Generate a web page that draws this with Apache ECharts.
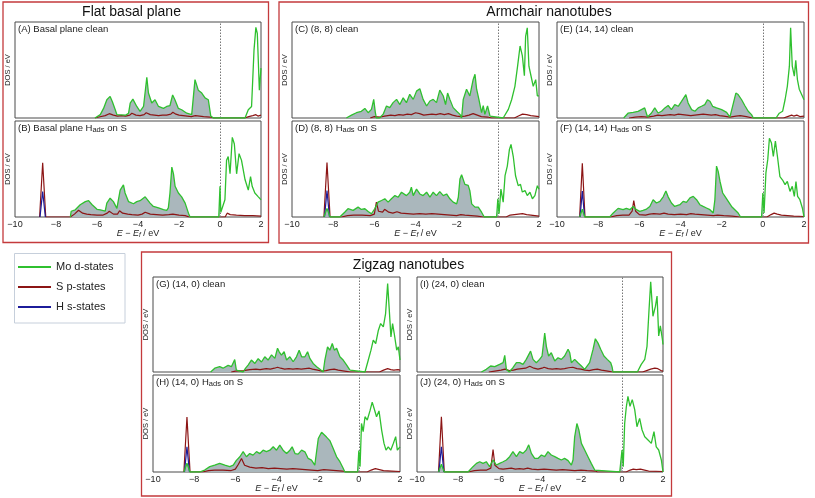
<!DOCTYPE html>
<html><head><meta charset="utf-8">
<script src="https://cdn.jsdelivr.net/npm/echarts@6/dist/echarts.min.js"></script>
<style>html,body{margin:0;padding:0;background:#fff}#c{width:815px;height:498px}</style>
</head><body><div id="c"></div>
<script>
// ---------------- DATA ----------------
const xTicks = [-10, -8, -6, -4, -2, 0, 2];
const seriesNames = ['Mo d-states', 'S p-states', 'H s-states'];
const groupTitles = ['Flat basal plane', 'Armchair nanotubes', 'Zigzag nanotubes'];
const panelLabels = ['(A) Basal plane clean', '(B) Basal plane H|ads| on S', '(C) (8, 8) clean', '(D) (8, 8) H|ads| on S',
  '(E) (14, 14) clean', '(F) (14, 14) H|ads| on S', '(G) (14, 0) clean', '(H) (14, 0) H|ads| on S',
  '(I) (24, 0) clean', '(J) (24, 0) H|ads| on S'];

// [E - Ef (eV), DOS (arb. units, 0-100 of panel height)]
const A_mo = [[-6.1,0],[-5.84,3.5],[-5.68,10],[-5.52,19],[-5.36,22.5],[-5.25,17],[-5.11,8.6],[-5.03,3.5],[-4.6,3],[-4.46,5],[-4.38,15.6],[-4.25,19.7],[-4.06,12],[-3.9,7],[-3.73,12],[-3.57,42.5],[-3.49,26],[-3.33,15.6],[-3.17,19],[-3.0,12],[-2.76,10],[-2.6,12],[-2.44,13],[-2.31,24],[-2.2,19],[-2.03,10],[-1.87,8.6],[-1.62,5],[-1.38,3.5],[-1.22,40],[-1.06,29],[-0.89,26],[-0.73,21],[-0.57,19],[-0.45,2],[-0.32,0],
  [1.22,0],[1.38,8.6],[1.54,12],[1.66,71],[1.75,94.5],[1.82,88],[1.92,29],[2.0,52]];
const A_s = [[-6.1,0],[-5.9,1],[-5.6,2.5],[-5.4,4.5],[-5.2,3],[-5.0,2],[-4.8,2.5],[-4.6,2],[-4.4,3],[-4.3,5],[-4.1,3],[-3.9,2.5],[-3.7,3.5],[-3.6,5.5],[-3.4,3.5],[-3.2,3],[-3.0,2.5],[-2.8,3],[-2.6,3],[-2.4,4],[-2.3,6],[-2.15,4],[-2.0,3],[-1.8,2.5],[-1.6,2],[-1.4,1.5],[-1.2,2.5],[-1.0,2],[-0.8,1.5],[-0.5,1],[-0.3,0],[1.2,0],[1.4,1.5],[1.6,2.5],[1.75,3.5],[1.85,2],[2.0,3]];
const A_h = [];

const B_mo = [[-7.3,0],[-7.26,6],[-7.06,7.5],[-6.82,12.7],[-6.57,16],[-6.41,17],[-6.25,13],[-6.0,8],[-5.84,7.5],[-5.6,6],[-5.52,14.5],[-5.36,19.6],[-5.2,16],[-5.03,9],[-4.87,28],[-4.71,33.4],[-4.63,25],[-4.46,16],[-4.22,13.8],[-4.06,16],[-3.9,17],[-3.65,21],[-3.57,23],[-3.41,14.5],[-3.25,11],[-3.0,9.5],[-2.76,7.6],[-2.6,6.9],[-2.52,9.5],[-2.44,25],[-2.35,52],[-2.27,45],[-2.19,32],[-2.03,25],[-1.87,21],[-1.7,14.5],[-1.54,4],[-1.46,0],
  [-0.06,0],[0,32],[0.04,5],[0.08,4],[0.24,18],[0.32,59],[0.4,63],[0.49,45],[0.6,83],[0.7,76],[0.81,45],[0.93,66],[1.05,59],[1.22,39],[1.38,28],[1.49,42],[1.57,32],[1.7,25],[1.87,21],[2.0,18]];
const B_s = [[-8.8,0],[-8.65,56.5],[-8.5,0],[-7.3,0],[-7.1,3],[-6.9,7],[-6.7,4],[-6.5,3],[-6.3,2.5],[-6.0,2],[-5.7,2],[-5.5,4],[-5.4,6],[-5.2,3],[-5.0,3],[-4.9,6.5],[-4.75,4],[-4.5,3],[-4.3,2.5],[-4.0,2],[-3.8,3],[-3.65,5],[-3.4,3],[-3.1,2.5],[-2.8,2],[-2.5,2.5],[-2.3,3],[-2.0,2],[-1.7,1.5],[-1.5,0],[0.25,0],[0.35,4],[0.5,2.5],[0.8,2],[1.2,1.5],[1.6,1.5],[2.0,1]];
const B_h = [[-8.78,0],[-8.65,26.5],[-8.52,0]];

const C_mo = [[-7.36,0],[-7.11,3],[-6.87,5.5],[-6.63,7],[-6.46,10],[-6.3,5.5],[-6.14,9],[-6.03,19.4],[-5.95,5.5],[-5.9,0],[-5.75,0],[-5.57,4],[-5.41,12.5],[-5.25,10.8],[-5.09,16],[-4.92,19.4],[-4.76,14],[-4.6,21],[-4.44,16],[-4.28,24.7],[-4.11,19.4],[-3.95,28],[-3.79,30.5],[-3.63,19.4],[-3.46,12.5],[-3.3,17.7],[-3.14,19.4],[-2.98,16],[-2.82,29],[-2.65,22.9],[-2.54,14],[-2.44,26],[-2.33,19.4],[-2.17,10.8],[-2.0,7],[-1.84,3.8],[-1.76,0],[-1.68,19.4],[-1.52,30],[-1.36,23],[-1.2,40],[-1.11,45.5],[-1.03,30],[-0.92,19.4],[-0.79,5.5],[-0.71,13],[-0.63,3.8],[-0.5,12.5],[-0.38,2],[-0.3,0],
  [0.26,0],[0.51,9],[0.67,19],[0.83,33],[0.96,54],[1.08,75],[1.19,65],[1.29,44],[1.35,85],[1.43,94],[1.51,54],[1.61,44],[1.72,33],[1.84,40],[1.92,23],[2.0,23]];
const C_s = [[-6.2,0],[-6.0,1.5],[-5.7,1],[-5.5,2],[-5.2,3],[-5.0,2.5],[-4.8,3.5],[-4.6,3],[-4.4,4],[-4.2,3.5],[-4.0,5.5],[-3.8,4.5],[-3.6,3],[-3.4,3.5],[-3.2,4],[-3.0,3.5],[-2.8,4.5],[-2.6,3.5],[-2.4,4.5],[-2.2,3],[-2.0,2],[-1.8,1.5],[-1.6,2],[-1.4,3],[-1.2,4.5],[-1.0,3],[-0.8,1.5],[-0.5,1],[-0.3,0],[0.8,0],[1.0,2],[1.2,4],[1.4,3.5],[1.6,2.5],[1.8,2],[2.0,1.5]];
const C_h = [];

const D_mo = [[-8.45,0],[-8.3,9],[-8.15,0],[-7.68,0],[-7.44,5],[-7.28,8.6],[-7.03,6.9],[-6.79,10.3],[-6.63,7.9],[-6.46,8.6],[-6.3,5.8],[-6.14,3.4],[-5.98,8.6],[-5.82,15.5],[-5.65,17.2],[-5.49,19],[-5.33,15.5],[-5.17,19],[-5.0,22.3],[-4.84,20.6],[-4.68,25.8],[-4.44,22.3],[-4.28,25.8],[-4.2,31],[-4.11,22.3],[-3.95,29],[-3.79,24],[-3.63,22.3],[-3.46,25.8],[-3.3,20.6],[-3.14,25.8],[-2.98,22.3],[-2.82,26.5],[-2.65,22.3],[-2.49,24],[-2.33,19],[-2.17,15.5],[-2.0,13.7],[-1.92,20.6],[-1.84,39.5],[-1.76,44],[-1.6,34],[-1.44,33],[-1.36,27.5],[-1.27,13.7],[-1.11,10.3],[-0.95,10.3],[-0.79,5],[-0.66,0],
  [-0.06,0],[0,19],[0.06,3.4],[0.15,29],[0.26,15.5],[0.35,43],[0.46,53],[0.56,70],[0.64,75.6],[0.75,63],[0.86,43],[0.99,32.6],[1.1,34],[1.19,26],[1.32,27.5],[1.43,22.3],[1.56,25.8],[1.68,19],[1.8,22.3],[1.92,32.6],[2.0,29]];
const D_s = [[-8.45,0],[-8.3,56.7],[-8.15,0],[-7.6,0],[-7.3,1.5],[-7.0,2],[-6.6,2],[-6.2,1.5],[-6.0,3],[-5.9,15.5],[-5.8,6],[-5.6,5],[-5.5,8],[-5.3,5],[-5.1,4],[-4.9,5.5],[-4.7,4],[-4.4,3.5],[-4.1,3],[-3.8,3.5],[-3.5,3],[-3.2,3.5],[-2.9,3],[-2.6,2.5],[-2.3,2],[-2.0,1.5],[-1.8,2.5],[-1.6,2],[-1.3,1.5],[-1.0,1],[-0.7,0],[0.4,0],[0.6,2],[0.8,2.5],[1.0,3],[1.2,3.5],[1.4,2.5],[1.6,2],[1.8,1.5],[2.0,1]];
const D_h = [[-8.42,0],[-8.3,27.5],[-8.18,0]];

const E_mo = [[-6.76,0],[-6.55,5],[-6.3,5.9],[-6.06,6.9],[-5.9,8.7],[-5.74,10.5],[-5.6,1],[-5.41,5.2],[-5.25,10.5],[-5.09,5.2],[-4.92,7],[-4.76,10.5],[-4.6,13],[-4.44,8.7],[-4.28,14],[-4.11,12.2],[-3.95,17.4],[-3.74,24.4],[-3.63,15.7],[-3.46,8.7],[-3.3,7],[-3.14,10.5],[-2.98,12.2],[-2.82,14],[-2.69,19],[-2.57,17.4],[-2.44,12.2],[-2.25,10.5],[-2.0,8.7],[-1.76,5.9],[-1.6,1],[-1.47,12.2],[-1.31,26],[-1.2,24.4],[-1.03,19],[-0.87,12.8],[-0.71,7],[-0.55,3.5],[-0.46,0],
  [0.64,0],[0.8,5],[0.96,7],[1.08,19],[1.19,33],[1.29,54],[1.35,94],[1.43,54],[1.53,43.5],[1.6,60],[1.68,40],[1.77,30],[1.85,31],[2.0,19]];
const E_s = [[-6.5,0],[-6.2,1],[-5.9,1.5],[-5.6,1],[-5.3,2],[-5.1,3],[-4.9,2.5],[-4.7,3],[-4.5,3.5],[-4.3,3],[-4.1,4],[-3.9,3.5],[-3.7,3],[-3.5,2.5],[-3.3,3],[-3.1,3.5],[-2.9,4],[-2.7,3.5],[-2.5,3],[-2.3,3.5],[-2.1,2.5],[-1.9,2],[-1.6,1],[-1.3,2],[-1.1,2.5],[-0.8,1.5],[-0.5,0],[1.0,0],[1.2,1.5],[1.4,3],[1.5,2],[1.65,3],[1.8,1.5],[2.0,2]];
const E_h = [];

const F_mo = [[-8.9,0],[-8.77,8],[-8.65,0],[-7.44,0],[-7.28,4],[-7.03,9],[-6.79,7.6],[-6.63,9],[-6.46,7.6],[-6.3,11],[-6.14,7.6],[-5.98,5.9],[-5.82,6.9],[-5.65,8.3],[-5.49,11],[-5.33,18],[-5.17,14.6],[-5.0,16.3],[-4.84,21],[-4.71,27],[-4.6,21],[-4.44,14.6],[-4.28,11],[-4.03,12.8],[-3.87,16.3],[-3.71,15.3],[-3.54,20],[-3.38,21.5],[-3.22,18],[-3.06,12.8],[-2.9,11],[-2.74,9.4],[-2.57,7.6],[-2.41,4.2],[-2.33,18],[-2.25,53],[-2.17,47.5],[-2.08,37],[-1.95,25],[-1.84,21.5],[-1.68,16.3],[-1.52,11],[-1.36,7.6],[-1.2,4.2],[-1.08,0],
  [-0.06,0],[0,25],[0.06,4.2],[0.15,46],[0.24,60],[0.32,82],[0.42,77],[0.51,63],[0.61,79],[0.71,63],[0.83,42],[0.96,38.5],[1.08,33.7],[1.19,37],[1.32,26.7],[1.43,32],[1.53,21.5],[1.61,37],[1.69,21.5],[1.8,18],[1.92,9.4],[2.0,0]];
const F_s = [[-8.9,0],[-8.77,56],[-8.64,0],[-7.4,0],[-7.1,1.5],[-6.8,2],[-6.5,2],[-6.35,6],[-6.27,17],[-6.18,6],[-6.0,2.5],[-5.7,2],[-5.5,3],[-5.3,3.5],[-5.0,3],[-4.8,4],[-4.6,3],[-4.3,2.5],[-4.0,3],[-3.7,2.5],[-3.5,3.5],[-3.3,3],[-3.0,2.5],[-2.7,2],[-2.4,1.5],[-2.2,2],[-1.9,1.5],[-1.5,1],[-1.1,0],[0.2,0],[0.4,2.5],[0.55,4],[0.7,3],[0.9,2],[1.2,1.5],[1.5,1],[2.0,0.5]];
const F_h = [[-8.88,0],[-8.77,27],[-8.66,0]];

const G_mo = [[-7.2,0],[-7.0,4],[-6.76,5.6],[-6.6,4],[-6.35,7],[-6.19,5.6],[-6.03,13],[-5.95,2],[-5.87,0],[-5.62,0],[-5.51,3.8],[-5.38,7.3],[-5.22,12.6],[-5.05,9],[-4.89,14],[-4.73,10.5],[-4.57,16],[-4.41,12.6],[-4.24,18],[-4.08,14.3],[-3.95,25],[-3.87,21.3],[-3.76,17.8],[-3.63,21.3],[-3.51,12.6],[-3.35,16],[-3.19,10.8],[-3.03,16],[-2.9,23],[-2.78,16],[-2.62,16],[-2.49,21.3],[-2.38,14.3],[-2.22,9],[-2.05,5.6],[-1.89,2.8],[-1.73,0],[-1.65,12.6],[-1.52,26.5],[-1.41,23],[-1.29,30],[-1.19,23],[-1.08,25],[-0.92,16],[-0.76,12.6],[-0.59,7.3],[-0.43,2],[-0.35,0],
  [0.3,0],[0.46,12.6],[0.59,23],[0.7,33.6],[0.82,30],[0.95,44],[1.06,51],[1.19,47.5],[1.3,61.5],[1.4,93],[1.46,72],[1.56,37],[1.64,51],[1.72,40.5],[1.84,23],[1.92,26.5],[2.0,12.6]];
const G_s = [[-6.2,0],[-6.0,1],[-5.6,1.5],[-5.3,2.5],[-5.0,3],[-4.8,2.5],[-4.5,3.5],[-4.3,3],[-4.1,4],[-3.95,5],[-3.8,4],[-3.6,3],[-3.4,3.5],[-3.2,3],[-3.0,3.5],[-2.8,3],[-2.6,3.5],[-2.4,4],[-2.25,3],[-2.0,2],[-1.8,1],[-1.6,1.5],[-1.4,2.5],[-1.2,3],[-1.0,2],[-0.7,1],[-0.4,0],[1.0,0],[1.2,2],[1.4,3.5],[1.55,2.5],[1.7,2],[1.9,2.5],[2.0,2]];
const G_h = [];

const H_mo = [[-8.5,0],[-8.35,9],[-8.2,0],[-7.73,0],[-7.49,2],[-7.24,5.5],[-7.0,7],[-6.76,8.9],[-6.51,7],[-6.27,5.5],[-6.1,7],[-5.95,12],[-5.78,15.7],[-5.62,21],[-5.46,15.7],[-5.3,19],[-5.14,17.4],[-4.97,21],[-4.81,19],[-4.65,22.5],[-4.49,21],[-4.32,22.5],[-4.16,26],[-4.0,22.5],[-3.84,27.6],[-3.68,22.5],[-3.51,19],[-3.35,22.5],[-3.24,26],[-3.1,19],[-2.95,18.4],[-2.78,22.5],[-2.62,20.8],[-2.46,14],[-2.3,12.3],[-2.14,7],[-2.05,8.9],[-1.97,34.5],[-1.89,36],[-1.81,41],[-1.73,39],[-1.57,36],[-1.41,32.4],[-1.24,24],[-1.08,15.7],[-0.92,10.6],[-0.76,3.8],[-0.68,0],
  [-0.06,0],[0,22],[0.06,5.5],[0.13,50],[0.21,41.6],[0.3,57],[0.41,53.6],[0.54,63],[0.65,72],[0.75,65],[0.86,57],[0.98,63],[1.11,43],[1.22,29.7],[1.32,22.5],[1.43,26],[1.55,22.5],[1.68,29.7],[1.79,36.5],[1.87,22.5],[2.0,26]];
const H_s = [[-8.5,0],[-8.35,56.7],[-8.2,0],[-7.6,0],[-7.3,1.5],[-7.0,2],[-6.6,2],[-6.2,1.5],[-6.0,3],[-5.85,8],[-5.7,14],[-5.55,7],[-5.3,5],[-5.0,4],[-4.7,4.5],[-4.4,3.5],[-4.1,4],[-3.8,3.5],[-3.5,3],[-3.2,3.5],[-2.9,3],[-2.6,2.5],[-2.3,2],[-2.0,1.5],[-1.7,2.5],[-1.4,2],[-1.1,1.5],[-0.8,1],[-0.6,0],[0.4,0],[0.6,2],[0.8,3.5],[1.0,2.5],[1.2,1.5],[1.6,1],[2.0,0.5]];
const H_h = [[-8.47,0],[-8.35,26],[-8.23,0]];

const I_mo = [[-6.86,0],[-6.62,2.8],[-6.41,6.3],[-6.21,5.6],[-5.97,8],[-5.8,9.8],[-5.72,17.5],[-5.64,2.8],[-5.5,0],[-5.32,4.5],[-5.15,9.8],[-4.99,9.8],[-4.83,8],[-4.67,13.3],[-4.46,22],[-4.34,13.3],[-4.18,9.8],[-4.02,13.3],[-3.9,16.8],[-3.77,41],[-3.69,27],[-3.58,16.8],[-3.45,20.3],[-3.28,11.5],[-3.12,15],[-2.96,13.3],[-2.8,16.8],[-2.63,24],[-2.55,20.3],[-2.47,9.8],[-2.31,13.3],[-2.15,9.8],[-1.98,6.3],[-1.82,2.8],[-1.74,1],[-1.58,9.8],[-1.41,24],[-1.3,35],[-1.17,30.4],[-1.04,24],[-0.88,16.8],[-0.72,13.3],[-0.55,9.8],[-0.48,5],[-0.44,0],
  [0.75,0],[0.94,8],[1.11,13.3],[1.22,27],[1.32,66],[1.4,95],[1.51,58.7],[1.63,69],[1.71,80],[1.79,38],[1.87,48.6],[1.97,34.6],[2.0,29]];
const I_s = [[-6.5,0],[-6.2,1],[-5.9,2],[-5.7,3],[-5.5,1.5],[-5.3,2],[-5.1,3],[-4.9,3.5],[-4.7,4],[-4.5,6],[-4.3,4],[-4.1,3],[-3.9,4],[-3.8,5],[-3.6,3.5],[-3.4,3],[-3.2,3.5],[-3.0,3],[-2.8,3.5],[-2.6,4.5],[-2.4,5],[-2.2,3.5],[-2.0,3],[-1.8,2],[-1.6,1.5],[-1.4,2.5],[-1.2,3],[-1.0,2],[-0.7,1],[-0.45,0],[1.0,0],[1.2,1.5],[1.4,3],[1.6,4],[1.75,3.5],[1.9,1.5],[2.0,1]];
const I_h = [];

const J_mo = [[-8.95,0],[-8.81,8],[-8.67,0],[-7.51,0],[-7.27,5.5],[-7.1,8.9],[-6.94,10.6],[-6.78,8.9],[-6.62,10.6],[-6.46,5.5],[-6.29,12.4],[-6.13,7.2],[-5.97,8.9],[-5.8,10.6],[-5.64,12.4],[-5.48,15.8],[-5.32,21],[-5.15,15.8],[-4.99,21],[-4.83,19.2],[-4.67,22.7],[-4.55,28],[-4.42,19.2],[-4.26,14],[-4.1,14],[-3.93,17.5],[-3.77,15.8],[-3.61,21],[-3.45,17.5],[-3.28,15.8],[-3.12,14],[-2.96,12.4],[-2.8,14],[-2.63,11.7],[-2.47,7.2],[-2.39,12.4],[-2.31,36],[-2.2,50],[-2.1,43],[-1.98,29.5],[-1.82,22.7],[-1.66,15.8],[-1.5,8.9],[-1.33,2],[-1.25,0],
  [-0.11,0],[0,22.7],[0.06,5.5],[0.13,50],[0.21,67],[0.29,78],[0.39,67.7],[0.5,74.6],[0.62,64.3],[0.73,46.7],[0.86,55.3],[0.98,43.3],[1.11,36.4],[1.27,33],[1.43,29.5],[1.56,41.6],[1.67,26],[1.79,22.7],[1.92,12.4],[2.0,0]];
const J_s = [[-8.95,0],[-8.81,57],[-8.67,0],[-7.5,0],[-7.2,1.5],[-6.9,2],[-6.6,2],[-6.4,4],[-6.29,23],[-6.2,7],[-6.0,3.5],[-5.8,3],[-5.6,3.5],[-5.4,4],[-5.2,3],[-5.0,3.5],[-4.8,3],[-4.6,4],[-4.4,3],[-4.1,2.5],[-3.8,3],[-3.5,2.5],[-3.2,2],[-2.9,2.5],[-2.6,2],[-2.3,1.5],[-2.0,2],[-1.7,1.5],[-1.3,1],[-1.2,0],[0.2,0],[0.4,2],[0.55,3],[0.7,2.5],[0.9,3],[1.1,2],[1.3,1],[2.0,0.5]];
const J_h = [[-8.93,0],[-8.81,26],[-8.69,0]];

// ---------------- LAYOUT ----------------
const FONT = 'Liberation Sans';
const COL = { green: '#2fc02f', red: '#8c1515', blue: '#1c1c9a', fill: '#aab7bc', frame: '#4a4a4a', box: '#c43a3c' };
const panels = [
  { mo: A_mo, s: A_s, h: A_h, left: 15, top: 22, w: 246, ht: 96, bottom: false },
  { mo: B_mo, s: B_s, h: B_h, left: 15, top: 121, w: 246, ht: 96, bottom: true },
  { mo: C_mo, s: C_s, h: C_h, left: 292, top: 22, w: 247, ht: 96, bottom: false },
  { mo: D_mo, s: D_s, h: D_h, left: 292, top: 121, w: 247, ht: 96, bottom: true },
  { mo: E_mo, s: E_s, h: E_h, left: 557, top: 22, w: 247, ht: 96, bottom: false },
  { mo: F_mo, s: F_s, h: F_h, left: 557, top: 121, w: 247, ht: 96, bottom: true },
  { mo: G_mo, s: G_s, h: G_h, left: 153, top: 277, w: 247, ht: 95, bottom: false },
  { mo: H_mo, s: H_s, h: H_h, left: 153, top: 375, w: 247, ht: 97, bottom: true },
  { mo: I_mo, s: I_s, h: I_h, left: 417, top: 277, w: 246, ht: 95, bottom: false },
  { mo: J_mo, s: J_s, h: J_h, left: 417, top: 375, w: 246, ht: 97, bottom: true }
];
const boxes = [
  { x: 3, y: 2, w: 265.5, h: 240.5, title: groupTitles[0], tx: 131.5, ty: 12 },
  { x: 279, y: 2, w: 529.5, h: 241, title: groupTitles[1], tx: 549, ty: 12 },
  { x: 141.5, y: 252, w: 530, h: 244, title: groupTitles[2], tx: 408.5, ty: 265 }
];

const fmt = v => (v < 0 ? '\u2212' + Math.abs(v) : String(v));
const grids = [], xAxes = [], yAxes = [], series = [], graphics = [];

panels.forEach((p, i) => {
  grids.push({ left: p.left, top: p.top, width: p.w, height: p.ht, show: true,
    borderColor: COL.frame, borderWidth: 1, backgroundColor: 'transparent' });
  xAxes.push({ gridIndex: i, type: 'value', min: xTicks[0], max: xTicks[xTicks.length - 1], interval: 2,
    axisLine: { show: false }, axisTick: { show: false }, splitLine: { show: false },
    axisLabel: { show: p.bottom, formatter: fmt, fontSize: 9, color: '#222', margin: 3, fontFamily: FONT } });
  yAxes.push({ gridIndex: i, type: 'value', min: 0, max: 100,
    axisLine: { show: false }, axisTick: { show: false }, splitLine: { show: false }, axisLabel: { show: false },
    name: 'DOS / eV', nameLocation: 'middle', nameGap: 3,
    nameTextStyle: { fontSize: 7.5, color: '#222', fontFamily: FONT } });
  series.push({ name: 'occupied', type: 'line', xAxisIndex: i, yAxisIndex: i, silent: true,
    data: p.mo.filter(d => d[0] <= 0), showSymbol: false, lineStyle: { width: 0 },
    areaStyle: { color: COL.fill, opacity: 1 }, z: 1 });
  series.push({ name: seriesNames[1], type: 'line', xAxisIndex: i, yAxisIndex: i, data: p.s,
    showSymbol: false, color: COL.red, lineStyle: { width: 1.2, color: COL.red }, z: 3 });
  series.push({ name: seriesNames[2], type: 'line', xAxisIndex: i, yAxisIndex: i, data: p.h,
    showSymbol: false, color: COL.blue, lineStyle: { width: 1.2, color: COL.blue }, z: 4 });
  series.push({ name: seriesNames[0], type: 'line', xAxisIndex: i, yAxisIndex: i, data: p.mo,
    showSymbol: false, color: COL.green, lineStyle: { width: 1.3, color: COL.green }, z: 5,
    markLine: { silent: true, symbol: 'none', label: { show: false },
      lineStyle: { type: [1.5, 1.5], color: '#777', width: 1 }, data: [{ xAxis: 0 }] } });
  const parts = panelLabels[i].split('|');
  let txt = '{n|' + parts[0] + '}';
  if (parts.length > 1) txt += '{s|' + parts[1] + '}{n|' + parts[2] + '}';
  graphics.push({ type: 'text', x: p.left + 3, y: p.top + 2, z: 10,
    style: { text: txt, verticalAlign: 'top', rich: {
      n: { fontSize: 9.5, fontFamily: FONT, fill: '#222', lineHeight: 12, verticalAlign: 'top' },
      s: { fontSize: 7.5, fontFamily: FONT, fill: '#222', lineHeight: 12, verticalAlign: 'top', padding: [2.5, 0, 0, 0] } } } });
  if (p.bottom) {
    graphics.push({ type: 'text', x: p.left + p.w / 2, y: p.top + p.ht + 12, z: 10,
      style: { text: '{i|E}{n| \u2212 }{i|E}{s|f}{n| / eV}', align: 'center', verticalAlign: 'top', rich: {
        n: { fontSize: 9, fontFamily: FONT, fill: '#222', lineHeight: 11, verticalAlign: 'top' },
        i: { fontSize: 9, fontFamily: FONT, fontStyle: 'italic', fill: '#222', lineHeight: 11, verticalAlign: 'top' },
        s: { fontSize: 6.5, fontFamily: FONT, fontStyle: 'italic', fill: '#222', lineHeight: 11, verticalAlign: 'top', padding: [3, 0, 0, 0] } } } });
  }
});

boxes.forEach(b => {
  graphics.push({ type: 'rect', shape: { x: b.x, y: b.y, width: b.w, height: b.h }, z: 0,
    style: { fill: 'none', stroke: COL.box, lineWidth: 1.3 } });
  graphics.push({ type: 'text', x: b.tx, y: b.ty, z: 10,
    style: { text: b.title, align: 'center', verticalAlign: 'middle', fontSize: 14, fontFamily: 'Liberation Sans', fill: '#111' } });
});
graphics.push({ type: 'rect', shape: { x: 14.5, y: 253.5, width: 110.5, height: 69.5 }, z: 0,
  style: { fill: '#fff', stroke: '#c6cfdb', lineWidth: 1 } });

const chart = echarts.init(document.getElementById('c'), null, { renderer: 'canvas' });
chart.setOption({
  animation: false,
  grid: grids, xAxis: xAxes, yAxis: yAxes, series: series, graphic: graphics,
  legend: { show: true, orient: 'vertical', left: 13, top: 255, itemWidth: 33, itemHeight: 2, itemGap: 6,
    selectedMode: false, icon: 'rect',
    data: seriesNames.map(n => ({ name: n })),
    textStyle: { fontSize: 11, fontFamily: 'Liberation Sans', color: '#222', lineHeight: 14 } }
});
</script></body></html>
